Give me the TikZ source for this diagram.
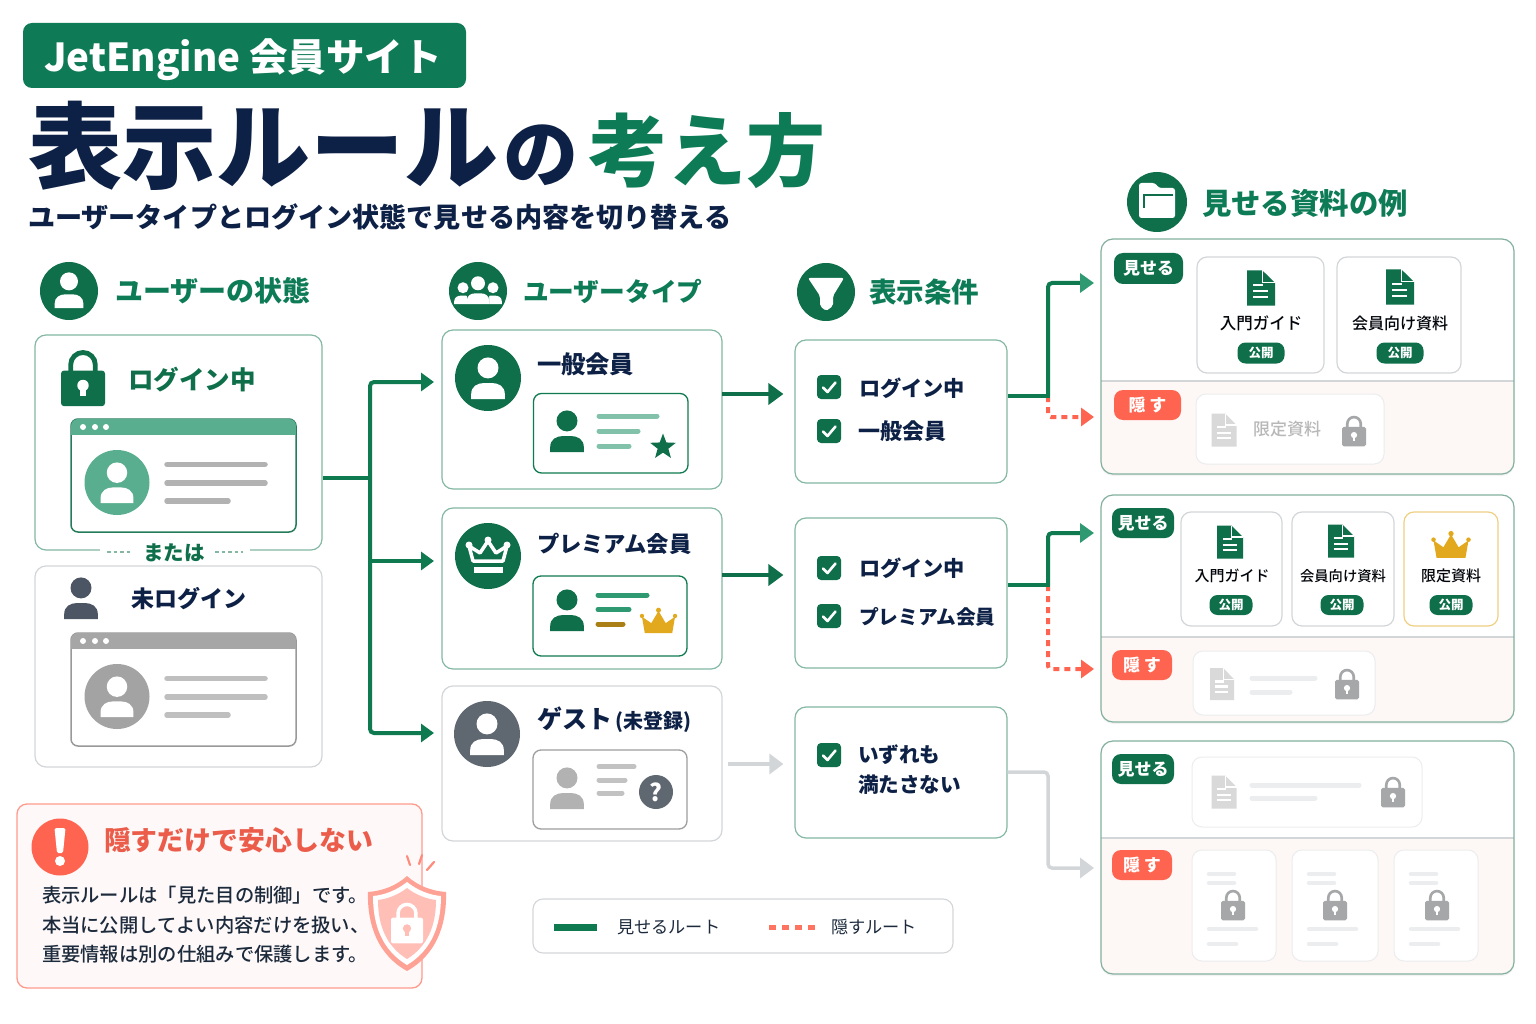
\documentclass[tikz,border=0pt]{standalone}
\usepackage{fontspec}
\usetikzlibrary{arrows.meta,shapes.geometric,shadows}
\setmainfont{Noto Sans CJK JP}
\newfontfamily\jpblack{Noto Sans CJK JP Black}
\newfontfamily\jpmed{Noto Sans CJK JP Medium}
\definecolor{cGreen}{HTML}{0E6F4A}
\definecolor{cBadge}{HTML}{0F7A56}
\definecolor{cHead}{HTML}{0E7B57}
\definecolor{cRoute}{HTML}{0F7A50}
\definecolor{cRouteL}{HTML}{2F9A72}
\definecolor{cNavy}{HTML}{0D2045}
\definecolor{cEdge}{HTML}{84B8A3}
\definecolor{cEdgeG}{HTML}{D3D6D9}
\definecolor{cRed}{HTML}{FF6450}
\definecolor{cGold}{HTML}{E2A91E}
\definecolor{cPink}{HTML}{FDF7F5}
\definecolor{cGhost}{HTML}{ECEDEE}
\definecolor{cLock}{HTML}{A5A7A9}
\definecolor{cBody}{HTML}{1C2A3C}
\definecolor{cSlate}{HTML}{5F6770}
\definecolor{cSlateD}{HTML}{4B5563}
\newcommand\fs[1]{\fontsize{#1}{#1}\selectfont}
\tikzset{
  txt/.style={inner sep=0pt,outer sep=0pt},
  cardbox/.style={draw=cEdge,line width=1.2pt,rounded corners=11pt,fill=white,inner sep=0pt},
  graybox/.style={draw=cEdgeG,line width=1.2pt,rounded corners=11pt,fill=white,inner sep=0pt},
  docbox/.style={draw=cEdgeG,line width=1.2pt,rounded corners=10pt,fill=white,inner sep=0pt},
  goldbox/.style={draw=cGold!55,line width=1.2pt,rounded corners=10pt,fill=white,inner sep=0pt},
  ghostbox/.style={draw=cGhost,line width=1pt,rounded corners=10pt,fill=white,inner sep=0pt},
  stem/.style={draw=cRoute,line width=4pt},
  route/.style={draw=cRoute,line width=4pt,rounded corners=4pt,-{Triangle[length=13pt,width=18pt,color=cRoute]}},
  routed/.style={draw=cGreen,line width=4.5pt,-{Triangle[length=15pt,width=21pt,color=cGreen]}},
  routel/.style={draw=cRoute,line width=4pt,rounded corners=4pt,-{Triangle[length=14pt,width=19pt,color=cRouteL]}},
  hideroute/.style={draw=cRed,line width=4pt,rounded corners=3pt,dash pattern=on 6pt off 5pt,-{Triangle[length=13pt,width=18pt,color=cRed]}},
  grayroute/.style={draw=cEdgeG,line width=3.5pt,rounded corners=4pt,-{Triangle[length=14pt,width=20pt,color=cEdgeG]}},
  ghostline/.style={draw=cGhost,line width=5pt,line cap=round},
}
% name x1 y1 x2 y2 style
\newcommand\CardBox[6]{\node (#1) [#6,minimum width={(#4-#2)*1pt},minimum height={(#5-#3)*1pt}] at ({(#2+#4)/2},{(#3+#5)/2}) {};}
% x y height colour
\newcommand\PersonIcon[4]{\begin{scope}[shift={(#1,#2)},scale=#3]
 \fill[#4] (0,-.24) circle (.25);
 \fill[#4] (-.4,.5) -- (-.4,.38) .. controls (-.4,.2) and (-.25,.12) .. (-.1,.12) -- (.1,.12) .. controls (.25,.12) and (.4,.2) .. (.4,.38) -- (.4,.5) -- cycle;
\end{scope}}
% x y width colour hole
\newcommand\LockIcon[5]{\begin{scope}[shift={(#1,#2)},scale=#3]
 \draw[#4,line width={#3*.11pt}] (-.28,-.1) -- (-.28,-.3) arc (180:360:.28) -- (.28,-.1);
 \fill[#4,rounded corners={#3*.07pt}] (-.5,-.17) rectangle (.5,.64);
 \fill[#5] (0,.17) circle (.13);
 \fill[#5] (-.06,.17) rectangle (.06,.42);
\end{scope}}
% x y w h fill
\newcommand\DocIcon[5]{\begin{scope}[shift={(#1,#2)},xscale=#3,yscale=#4]
 \fill[#5] (-.5,-.5) -- (.05,-.5) -- (.5,-.15) -- (.5,.5) -- (-.5,.5) -- cycle;
 \draw[white,line width=1.2pt] (.05,-.5) -- (.05,-.15) -- (.5,-.15);
 \draw[white,line width=2.2pt] (-.28,-.08) -- (.08,-.08) (-.28,.08) -- (.26,.08) (-.28,.25) -- (.26,.25);
\end{scope}}
% x y width colour
\newcommand\CrownFill[4]{\begin{scope}[shift={(#1,#2)},scale=#3]
 \fill[#4] (-.38,.34) -- (-.46,-.12) -- (-.2,.06) -- (0,-.28) -- (.2,.06) -- (.46,-.12) -- (.38,.34) -- cycle;
 \fill[#4] (-.46,-.14) circle (.06) (0,-.3) circle (.07) (.46,-.14) circle (.06);
\end{scope}}
% x y
\newcommand\CheckBox[2]{\fill[cGreen,rounded corners=4pt] (#1-12,#2-12) rectangle (#1+12,#2+12);
 \draw[white,line width=2.6pt,line cap=round,line join=round] (#1-6,#2+0.5) -- (#1-1.5,#2+5) -- (#1+6.5,#2-4.5);}
% name ytop frame bar avatar linecolour
\newcommand\BrowserBox[6]{\CardBox{#1}{71}{#2}{296}{#2+113}{draw=#3,line width=1.5pt,rounded corners=7pt,fill=white}
 \begin{scope}\clip[rounded corners=7pt] (71,#2) rectangle (296,#2+113); \fill[#4] (71,#2) rectangle (296,#2+16);\end{scope}
 \fill[white] (83,#2+8) circle (3) (95,#2+8) circle (3) (106,#2+8) circle (3);
 \fill[#5] (117,#2+63.5) circle (32.5);
 \PersonIcon{117}{#2+63.5}{41}{white}
 \draw[#6,line width=5.5pt,line cap=round] (167,#2+45.5) -- (265,#2+45.5) (167,#2+64) -- (265,#2+64) (167,#2+82) -- (228,#2+82);}
% name y1 ysplit y2
\newcommand\PanelBox[4]{\CardBox{#1}{1101}{#2}{1514}{#4}{draw=none,rounded corners=12pt,fill=white,drop shadow={opacity=.10,shadow xshift=0pt,shadow yshift=-2pt}}
 \begin{scope}\clip[rounded corners=12pt] (1101,#2) rectangle (1514,#4); \fill[cPink] (1101,#3) rectangle (1514,#4);\end{scope}
 \draw[cEdgeG,line width=1.2pt] (1101,#3) -- (1514,#3);
 \draw[draw=cEdge!85!gray,line width=1.2pt,rounded corners=12pt] (1101,#2) rectangle (1514,#4);}
% name x1 y1 x2 y2 fill text
\newcommand\LabelBadge[7]{\node (#1) [fill=#6,rounded corners=9pt,inner sep=0pt,text=white,font={\fs{17}\bfseries},minimum width={(#4-#2)*1pt},minimum height={(#5-#3)*1pt}] at ({(#2+#4)/2},{(#3+#5)/2}) {#7};}
% name x y w h
\newcommand\OpenPill[5]{\node (#1) [fill=cGreen,rounded corners=8pt,inner sep=0pt,text=white,font={\fs{12.5}\bfseries},minimum width=#4pt,minimum height=#5pt] at (#2,#3) {公開};}
\begin{document}
\begin{tikzpicture}[x=1pt,y=-1pt]
\useasboundingbox (0,0) rectangle (1536,1024);
\fill[white!99!cPink] (0,0) rectangle (1536,1024);
% ---------- title
\CardBox{badge}{23}{23}{466}{88}{fill=cBadge,rounded corners=9pt,inner sep=0pt}
\node (badget) [txt,text=white,font={\fs{38.5}\bfseries}] at (243,60) {JetEngine 会員サイト};
\node (title) [txt,anchor=base west,text=cNavy,font={\jpblack}] at (28,182) {\fs{94}表示ルール\hspace{5pt}\fs{75}の};
\node (title2) [txt,anchor=base west,text=cHead,font={\jpblack}] at (588,181) {\fs{79}考え方};
\node (subtitle) [txt,anchor=west,text=cNavy,font={\fs{27.1}\bfseries}] at (28,217) {ユーザータイプとログイン状態で見せる内容を切り替える};
% ---------- section headers
\fill[cGreen] (69,291) circle (29);
\PersonIcon{69}{290}{36}{white}
\node (h1) [txt,anchor=west,text=cHead,font={\fs{28}\bfseries}] at (115,291) {ユーザーの状態};
\fill[cGreen] (478,291) circle (29);
\PersonIcon{463}{293}{22}{white}
\PersonIcon{493}{293}{22}{white}
\fill[cGreen] (467,306) -- (467,296) -- (472,289) -- (484,289) -- (489,296) -- (489,306) -- cycle;
\PersonIcon{478}{290}{28}{white}
\node (h2) [txt,anchor=west,text=cHead,font={\fs{25.7}\bfseries}] at (523,291) {ユーザータイプ};
\fill[cGreen] (826,292) circle (29);
\fill[white,rounded corners=2pt] (808,278) -- (844,278) -- (833,296) -- (833,306) -- (826,311) -- (820,306) -- (820,296) -- cycle;
\node (h3) [txt,anchor=west,text=cHead,font={\fs{27.5}\bfseries}] at (869,292) {表示条件};
\fill[cGreen] (1157,202) circle (30);
\fill[white,rounded corners=2.5pt] (1139,218) -- (1139,183) -- (1155,183) -- (1159,188) -- (1175,188) -- (1175,218) -- cycle;
\draw[cGreen,line width=1.8pt] (1144,208) -- (1144,195) -- (1173,195);
\node (h4) [txt,anchor=west,text=cHead,font={\fs{29.4}\bfseries}] at (1202,203) {見せる資料の例};
% ---------- login state
\CardBox{login}{35}{335}{322}{550}{cardbox}
\LockIcon{83}{378}{44}{cGreen}{white}
\node (logintxt) [txt,anchor=west,text=cGreen,font={\fs{25.5}\bfseries}] at (128,380) {ログイン中};
\BrowserBox{browser1}{419}{cRouteL!80!black}{cRouteL!80}{cRouteL!80}{black!30}
\fill[white] (100,545) rectangle (250,556);
\node (or) [txt,text=cGreen,font={\fs{20.5}\bfseries}] at (174,553) {または};
\coordinate (orL1) at (107,552); \coordinate (orL2) at (133,552);
\coordinate (orR1) at (215,552); \coordinate (orR2) at (243,552);
\draw[cEdge,line width=1.5pt,dash pattern=on 3.5pt off 3pt] (orL1) -- (orL2) (orR1) -- (orR2);
\CardBox{nologin}{35}{566}{322}{767}{graybox}
\PersonIcon{81}{598}{42}{cSlateD}
\node (nologintxt) [txt,anchor=west,text=cNavy,font={\fs{23}\bfseries}] at (131,599) {未ログイン};
\BrowserBox{browser2}{633}{black!40}{black!35}{black!36}{black!25}
% ---------- user types
\CardBox{type1}{442}{330}{722}{489}{cardbox}
\fill[cGreen] (488,378) circle (33);
\PersonIcon{488}{378}{42}{white}
\node (type1txt) [txt,anchor=west,text=cNavy,font={\fs{24.3}\bfseries}] at (537,364) {一般会員};
\CardBox{sub1}{533.5}{393.5}{688}{473}{draw=cRoute,line width=1.3pt,rounded corners=8pt,fill=white}
\PersonIcon{567}{431}{42}{cGreen}
\draw[cRouteL!60,line width=5pt,line cap=round] (599,416) -- (657,416) (599,431) -- (638,431) (599,446) -- (629,446);
\node (star1) [star,star points=5,star point ratio=2.4,fill=cGreen,minimum size=27pt,inner sep=0pt] at (663,447) {};

\CardBox{type2}{442}{508}{722}{669}{cardbox}
\fill[cGreen] (488,556) circle (33);
\draw[white,line width=3.5pt,line join=round] (473,561) -- (469,546) -- (480,553) -- (488,541) -- (496,553) -- (507,546) -- (503,561) -- cycle;
\fill[white] (469,545) circle (3.5) (488,540) circle (3.5) (507,545) circle (3.5);
\fill[white] (474,567) rectangle (503,573);
\node (type2txt) [txt,anchor=west,text=cNavy,font={\fs{22.3}\bfseries}] at (537,544) {プレミアム会員};
\CardBox{sub2}{533}{576}{687}{656}{draw=cRoute,line width=1.3pt,rounded corners=8pt,fill=white}
\PersonIcon{567}{610}{42}{cGreen}
\draw[cRouteL,line width=5pt,line cap=round] (598,595) -- (647,595) (598,609.5) -- (629,609.5);
\draw[cGold!75!black,line width=5pt,line cap=round] (598,624) -- (623,624);
\CrownFill{658.5}{621}{36}{cGold}

\CardBox{type3}{442}{686}{722}{841}{graybox}
\fill[cSlate] (487,734) circle (33);
\PersonIcon{487}{734}{42}{white}
\node (type3txt) [txt,anchor=west,text=cNavy,font={\bfseries}] at (537,720) {\fs{25}ゲスト\hspace{3pt}{\jpmed\fs{20}(未登録)}};
\CardBox{sub3}{533}{750}{687}{829}{draw=black!38,line width=1.3pt,rounded corners=8pt,fill=white}
\PersonIcon{567}{788}{42}{black!30}
\draw[black!24,line width=5pt,line cap=round] (599,766.5) -- (634,766.5) (599,780) -- (625,780) (599,793) -- (622,793);
\node (qmark) [circle,fill=cSlate,text=white,inner sep=0pt,minimum size=34pt,font={\fs{24}\bfseries}] at (656,792) {?};
% ---------- junction from login state
\coordinate (j1) at (370,478);
\coordinate (t1) at (434,382);
\coordinate (t2) at (434,561);
\coordinate (t3) at (434,733);
\draw[stem] (login.east |- j1) -- (j1);
\draw[route] (j1) |- (t1);
\draw[route] (j1 |- t2) -- (t2);
\draw[route] (j1) |- (t3);
% ---------- conditions
\CardBox{cond1}{795}{340}{1007}{483}{cardbox}
\CheckBox{829}{387}\CheckBox{829}{431}
\node (c1a) [txt,anchor=west,text=cNavy,font={\fs{21.2}\bfseries}] at (859,388) {ログイン中};
\node (c1b) [txt,anchor=west,text=cNavy,font={\fs{22}\bfseries}] at (858,431) {一般会員};
\CardBox{cond2}{795}{518}{1007}{668}{cardbox}
\CheckBox{829}{568}\CheckBox{829}{616}
\node (c2a) [txt,anchor=west,text=cNavy,font={\fs{21.2}\bfseries}] at (859,568) {ログイン中};
\node (c2b) [txt,anchor=west,text=cNavy,font={\fs{19.7}\bfseries}] at (859,617) {プレミアム会員};
\CardBox{cond3}{795}{707}{1007}{838}{cardbox}
\CheckBox{829}{755}
\node (c3a) [txt,anchor=west,text=cNavy,font={\fs{20.6}\bfseries}] at (858,755) {いずれも};
\node (c3b) [txt,anchor=west,text=cNavy,font={\fs{20.6}\bfseries}] at (858,785) {満たさない};
% type -> condition
\coordinate (a1s) at (722,394); \coordinate (a2s) at (722,575); \coordinate (a3s) at (728,764);
\draw[routed] (a1s) -- ([xshift=-11pt]cond1.west |- a1s);
\draw[routed] (a2s) -- ([xshift=-11pt]cond2.west |- a2s);
\draw[grayroute] (a3s) -- ([xshift=-11pt]cond3.west |- a3s);
% ---------- panels
\PanelBox{panel1}{239}{381}{474}
\LabelBadge{show1}{1114}{253}{1183}{284}{cGreen}{見せる}
\LabelBadge{hide1}{1114}{390}{1181}{420}{cRed}{隠 す}
\CardBox{d11}{1197}{257}{1324}{373}{docbox}
\DocIcon{1261}{288}{28}{35}{cGreen}
\node (d11t) [txt,text=black!85!cNavy,font={\fs{16.5}\jpmed}] at (1261,323) {入門ガイド};
\OpenPill{d11p}{1261}{353}{47}{21}
\CardBox{d12}{1337}{257}{1461}{373}{docbox}
\DocIcon{1400}{287}{28}{35}{cGreen}
\node (d12t) [txt,text=black!85!cNavy,font={\fs{16}\jpmed}] at (1400,323) {会員向け資料};
\OpenPill{d12p}{1400}{353}{47}{21}
\CardBox{d13}{1196}{394}{1384}{464}{ghostbox}
\DocIcon{1224}{430}{25}{33}{black!15}
\node (d13t) [txt,text=black!28,font={\fs{17}\jpmed}] at (1287,429) {限定資料};
\LockIcon{1354}{431}{24}{cLock}{white}

\PanelBox{panel2}{495}{637}{722}
\LabelBadge{show2}{1112}{508}{1174}{538}{cGreen}{見せる}
\LabelBadge{hide2}{1112}{650}{1172}{680}{cRed}{隠 す}
\CardBox{d21}{1181}{512}{1282}{626}{docbox}
\DocIcon{1230}{542}{26}{33}{cGreen}
\node (d21t) [txt,text=black!85!cNavy,font={\fs{15}\jpmed}] at (1232,576) {入門ガイド};
\OpenPill{d21p}{1231}{605}{43}{20}
\CardBox{d22}{1292}{512}{1394}{626}{docbox}
\DocIcon{1341}{541}{26}{33}{cGreen}
\node (d22t) [txt,text=black!85!cNavy,font={\fs{14.3}\jpmed}] at (1343,576) {会員向け資料};
\OpenPill{d22p}{1342}{605}{43}{20}
\CardBox{d23}{1404}{512}{1498}{626}{goldbox}
\CrownFill{1451}{545}{38}{cGold}
\node (d23t) [txt,text=black!85!cNavy,font={\fs{15}\jpmed}] at (1451,576) {限定資料};
\OpenPill{d23p}{1451}{605}{43}{20}
\CardBox{d24}{1193}{651}{1375}{715}{ghostbox}
\DocIcon{1222}{684}{24}{32}{black!15}
\draw[ghostline] (1252,678) -- (1315,678) (1252,692) -- (1290,692);
\LockIcon{1347}{684}{24}{cLock}{white}

\PanelBox{panel3}{741}{838}{974}
\LabelBadge{show3}{1112}{754}{1174}{784}{cGreen}{見せる}
\LabelBadge{hide3}{1112}{850}{1172}{880}{cRed}{隠 す}
\CardBox{d31}{1192}{757}{1422}{827}{ghostbox}
\DocIcon{1224}{792}{25}{33}{black!15}
\draw[ghostline] (1252,785) -- (1359,785) (1252,798) -- (1315,798);
\LockIcon{1393}{792}{24}{cLock}{white}
\foreach \cx/\cy/\lx/\nm in {1192/1276/1233/a,1292/1378/1335/b,1394/1478/1437/c}{
 \CardBox{d32\nm}{\cx}{850}{\cy}{961}{ghostbox}
 \draw[ghostline,line width=4.5pt] (\cx+17,874) -- (\cx+42,874) (\cx+17,883) -- (\cx+42,883) (\cx+17,929) -- (\cx+64,929) (\cx+17,944) -- (\cx+44,944);
 \LockIcon{\lx}{905}{24}{cLock}{white}
}
% ---------- routes to panels
\coordinate (j2) at (1048,396); \coordinate (p1a) at (1094,283); \coordinate (p1b) at (1094,417);
\coordinate (j3) at (1048,585); \coordinate (p2a) at (1094,533); \coordinate (p2b) at (1094,669);
\coordinate (j4) at (1048,772); \coordinate (p3b) at (1094,868);
\draw[hideroute] (j2) |- (p1b);
\draw[hideroute] (j3) |- (p2b);
\draw[stem] (cond1.east |- j2) -- ([xshift=2pt]j2);
\draw[stem] (cond2.east |- j3) -- ([xshift=2pt]j3);
\draw[routel] (j2) |- (p1a);
\draw[routel] (j3) |- (p2a);
\draw[grayroute] (cond3.east |- j4) -- (j4) |- (p3b);
% ---------- warning
\CardBox{warn}{17}{804}{422}{988}{draw=cRed!65,line width=1.3pt,rounded corners=10pt,fill=cPink!70!white}
\fill[cRed] (60,847) circle (28.5);
\fill[white,rounded corners=1.5pt] (54.5,828) -- (65.5,828) -- (63,853) -- (57,853) -- cycle;
\fill[white] (60,861) circle (5);
\node (warnt) [txt,anchor=west,text=cRed!92!black,font={\fs{26.9}\bfseries}] at (104,840) {隠すだけで安心しない};
\node (w1) [txt,anchor=west,text=cBody,font={\fs{19.3}\jpmed}] at (42,895) {表示ルールは「見た目の制御」です。};
\node (w2) [txt,anchor=west,text=cBody,font={\fs{19.3}\jpmed}] at (42,925) {本当に公開してよい内容だけを扱い、};
\node (w3) [txt,anchor=west,text=cBody,font={\fs{19.3}\jpmed}] at (42,954) {重要情報は別の仕組みで保護します。};
\fill[cRed!60] (407,876) .. controls (418,886) and (432,891) .. (446,892) .. controls (447,925) and (436,955) .. (407,971) .. controls (378,955) and (367,925) .. (368,892) .. controls (382,891) and (396,886) .. (407,876) -- cycle;
\fill[white] (407,882) .. controls (417,890) and (429,895) .. (441,896) .. controls (441,925) and (432,950) .. (407,965) .. controls (382,950) and (373,925) .. (373,896) .. controls (385,895) and (397,890) .. (407,882) -- cycle;
\fill[cRed!42] (407,888) .. controls (416,895) and (427,899) .. (436,900) .. controls (436,925) and (428,946) .. (407,959) .. controls (386,946) and (378,925) .. (378,900) .. controls (387,899) and (398,895) .. (407,888) -- cycle;
\LockIcon{407}{923}{32}{white}{cRed!42}
\draw[cRed!75,line width=2.2pt,line cap=round] (407,856) -- (410,865) (422,855) -- (419,864) (434,862) -- (427,870);
% ---------- legend
\CardBox{legend}{533}{899}{953}{953}{draw=cEdgeG,line width=1.1pt,rounded corners=10pt,fill=white}
\coordinate (lg1) at (554,927); \coordinate (lg2) at (597,927);
\coordinate (lr1) at (769,927); \coordinate (lr2) at (815,927);
\draw[cRoute,line width=7pt] (lg1) -- (lg2);
\draw[cRed!90,line width=5pt,dash pattern=on 7pt off 6pt] (lr1) -- (lr2);
\node (lgt) [txt,anchor=west,text=cBody,font={\fs{17.2}}] at (617,927) {見せるルート};
\node (lrt) [txt,anchor=west,text=cBody,font={\fs{17.2}}] at (831,927) {隠すルート};
\end{tikzpicture}
\end{document}
